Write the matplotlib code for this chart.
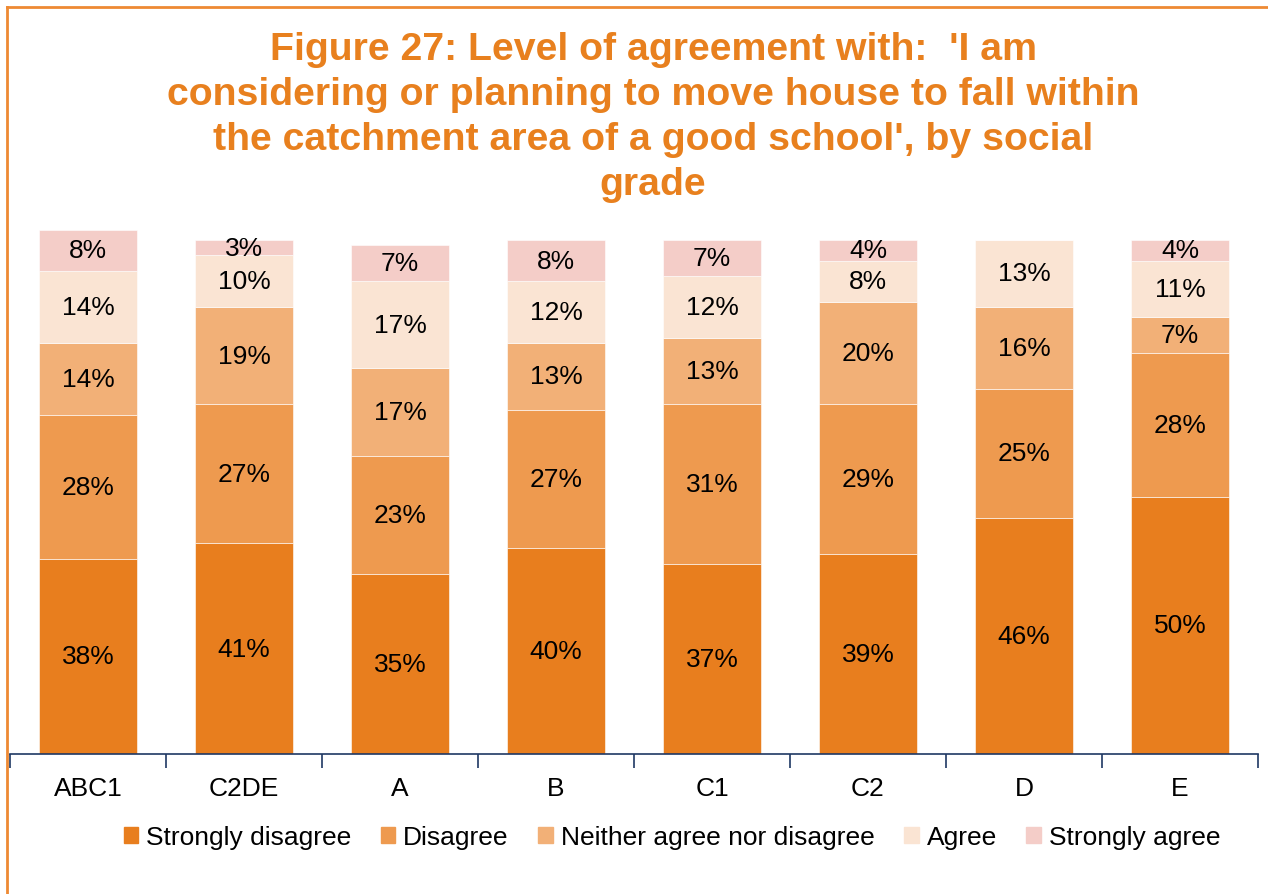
import matplotlib
matplotlib.use("Agg")
import matplotlib.pyplot as plt
from matplotlib.lines import Line2D
import numpy as np

plt.rcParams['font.family'] = ['Liberation Sans', 'DejaVu Sans']

categories = ["ABC1", "C2DE", "A", "B", "C1", "C2", "D", "E"]
series_names = ["Strongly disagree", "Disagree", "Neither agree nor disagree", "Agree", "Strongly agree"]
strongly_disagree = [38, 41, 35, 40, 37, 39, 46, 50]
disagree = [28, 27, 23, 27, 31, 29, 25, 28]
neither = [14, 19, 17, 13, 13, 20, 16, 7]
agree = [14, 10, 17, 12, 12, 8, 13, 11]
strongly_agree = [8, 3, 7, 8, 7, 4, 0, 4]
colors = ["#E87E1E", "#EE9A4F", "#F2B077", "#FAE4D3", "#F4CDC8"]

title = ("Figure 27: Level of agreement with:  'I am\n"
         "considering or planning to move house to fall within\n"
         "the catchment area of a good school', by social\n"
         "grade")

fig = plt.figure(figsize=(12.68, 8.95), dpi=100)
ax = fig.add_axes([10/1268, 140/895, 1248/1268, (755-230.7)/895])

x = np.arange(len(categories))
series = [strongly_disagree, disagree, neither, agree, strongly_agree]
bottom = np.zeros(len(categories))
for vals, col, name in zip(series, colors, series_names):
    vals = np.array(vals, dtype=float)
    ax.bar(x, vals, width=0.63, bottom=bottom, color=col, label=name,
           edgecolor='white', linewidth=0.4)
    for xi, b, v in zip(x, bottom, vals):
        if v > 0:
            ax.text(xi, b + v/2, f"{int(v)}%", ha='center', va='center',
                    fontsize=19, color='black')
    bottom += vals

ax.set_xlim(-0.5, len(categories) - 0.5)
ax.set_ylim(0, 102)
for s in ['left', 'right', 'top']:
    ax.spines[s].set_visible(False)
ax.spines['bottom'].set_color('#1F3864')
ax.spines['bottom'].set_linewidth(1.2)
ax.set_yticks([])
ax.set_xticks(x)
ax.set_xticklabels(categories, fontsize=19)
ax.tick_params(axis='x', which='major', length=0, pad=16)
ax.set_xticks(np.arange(-0.5, len(categories)), minor=True)
ax.tick_params(axis='x', which='minor', length=10, width=1.2, color='#1F3864')

fig.text(653/1268, 1 - 117.5/895, title, ha='center', va='center', fontsize=28.3,
         fontweight='bold', color='#E8801E', linespacing=1.31)

handles = [plt.Rectangle((0, 0), 1, 1, color=c) for c in colors]
fig.legend(handles, series_names, loc='center', bbox_to_anchor=(672/1268, 1 - 838/895),
           ncol=5, frameon=False, fontsize=19, handlelength=0.55, handleheight=0.55,
           handletextpad=0.3, columnspacing=1.12)

# frame lines (left and top)
fig.add_artist(Line2D([7/1268, 7/1268], [0, 1 - 8/895], color='#EE8A33', linewidth=2,
                      transform=fig.transFigure))
fig.add_artist(Line2D([7/1268, 1], [1 - 8/895, 1 - 8/895], color='#EE8A33', linewidth=2,
                      transform=fig.transFigure))

fig.savefig("out.png", dpi=100)
